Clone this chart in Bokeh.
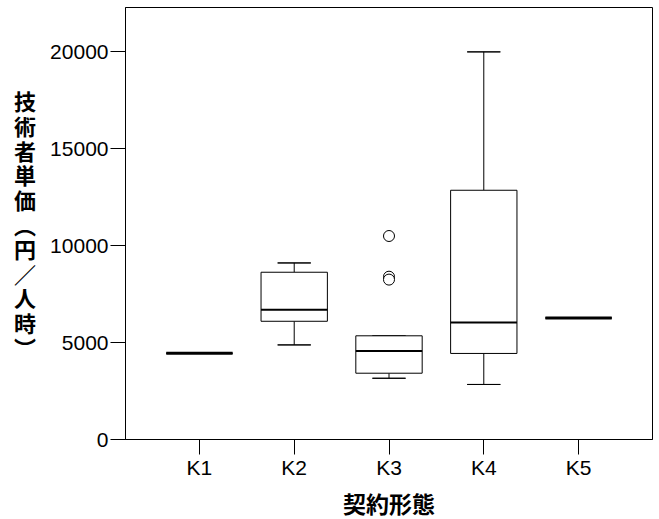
from bokeh.plotting import figure
from bokeh.models import FactorRange, Range1d, FixedTicker
from bokeh.layouts import column
from bokeh.core.properties import value
from bokeh.embed import file_html
from bokeh.resources import INLINE

# ---- data ----
categories = ["K1", "K2", "K3", "K4", "K5"]
whisker_low = [4450, 4880, 3160, 2840, 6270]
q1 = [4450, 6100, 3420, 4440, 6270]
median = [4450, 6690, 4560, 6040, 6270]
q3 = [4450, 8630, 5350, 12860, 6270]
whisker_high = [4450, 9110, 5350, 20000, 6270]
outlier_cat = ["K3", "K3", "K3"]
outlier_val = [10500, 8400, 8250]
y_ticks = [0, 5000, 10000, 15000, 20000]
x_title = "契約形態"
y_title = "技術者単価︵円／人時︶"

# ---- layout ----
W = 659
ML, MR, MT = 125, 7, 7
FRAME_H = 432
MB = 44           # room for the x tick labels
TITLE_H = 36      # strip holding the x-axis title
H_MAIN = MT + FRAME_H + MB

p = figure(
    width=W, height=H_MAIN,
    x_range=FactorRange(factors=categories, range_padding=0.28, range_padding_units="absolute"),
    y_range=Range1d(0, 22290),
    output_backend="svg", toolbar_location=None,
    min_border_left=ML, min_border_right=MR, min_border_top=MT, min_border_bottom=MB,
)
p.background_fill_color = "white"
p.border_fill_color = "white"
p.outline_line_color = "black"
p.outline_line_width = 1
p.outline_line_alpha = 1
p.xgrid.visible = False
p.ygrid.visible = False

box_w = 0.70
cap_w = 0.35

# whiskers
p.segment(x0=categories, x1=categories, y0=q3, y1=whisker_high, line_color="black", line_width=1)
p.segment(x0=categories, x1=categories, y0=q1, y1=whisker_low, line_color="black", line_width=1)
# caps
p.vbar(x=categories, top=whisker_high, bottom=whisker_high, width=cap_w,
       fill_alpha=0, line_color="black", line_width=1)
p.vbar(x=categories, top=whisker_low, bottom=whisker_low, width=cap_w,
       fill_alpha=0, line_color="black", line_width=1)
# boxes
p.vbar(x=categories, top=q3, bottom=q1, width=box_w,
       fill_color="white", line_color="black", line_width=1)
# medians
med_lw = [3 if a == b else 2 for a, b in zip(q1, q3)]
p.vbar(x=categories, top=median, bottom=median, width=box_w,
       fill_alpha=0, line_color="black", line_width=med_lw)
# outliers
p.scatter(x=outlier_cat, y=outlier_val, marker="circle", size=11,
          fill_color="white", line_color="black", line_width=1)

tick_font = "Liberation Sans"
title_font = "Noto Sans CJK JP"

yax = p.yaxis[0]
yax.ticker = FixedTicker(ticks=y_ticks)
yax.minor_tick_line_color = None
yax.major_tick_in = 0
yax.major_tick_out = 15
yax.major_label_standoff = 2
yax.major_label_text_font = tick_font
yax.major_label_text_font_size = "21px"
yax.major_label_text_color = "black"
yax.axis_line_color = "black"
yax.major_tick_line_color = "black"
yax.axis_label = "\n".join(list(y_title))
yax.axis_label_orientation = "horizontal"
yax.axis_label_text_font = title_font
yax.axis_label_text_font_style = "bold"
yax.axis_label_text_font_size = "22px"
yax.axis_label_text_line_height = 0.77
yax.axis_label_text_color = "black"
yax.axis_label_standoff = 11

xax = p.xaxis[0]
xax.major_tick_in = 0
xax.major_tick_out = 15
xax.major_label_standoff = 1
xax.major_label_text_font = tick_font
xax.major_label_text_font_size = "21px"
xax.major_label_text_color = "black"
xax.axis_line_color = "black"
xax.major_tick_line_color = "black"

# ---- x-axis title strip, aligned with the main frame ----
t = figure(
    width=W, height=TITLE_H,
    x_range=Range1d(0, 1), y_range=Range1d(0, TITLE_H),
    x_axis_type=None, y_axis_type=None,
    output_backend="svg", toolbar_location=None,
    min_border_left=ML, min_border_right=MR, min_border_top=0, min_border_bottom=0,
)
t.outline_line_color = None
t.background_fill_color = "white"
t.border_fill_color = "white"
t.grid.visible = False
t.text(x=[0.5], y=[17], text=[x_title], text_align="center", text_baseline="middle",
       text_font=value(title_font), text_font_style="bold", text_font_size="23px",
       text_color="black")

layout = column(p, t, spacing=0)
open("out.html", "w").write(file_html(layout, INLINE))
